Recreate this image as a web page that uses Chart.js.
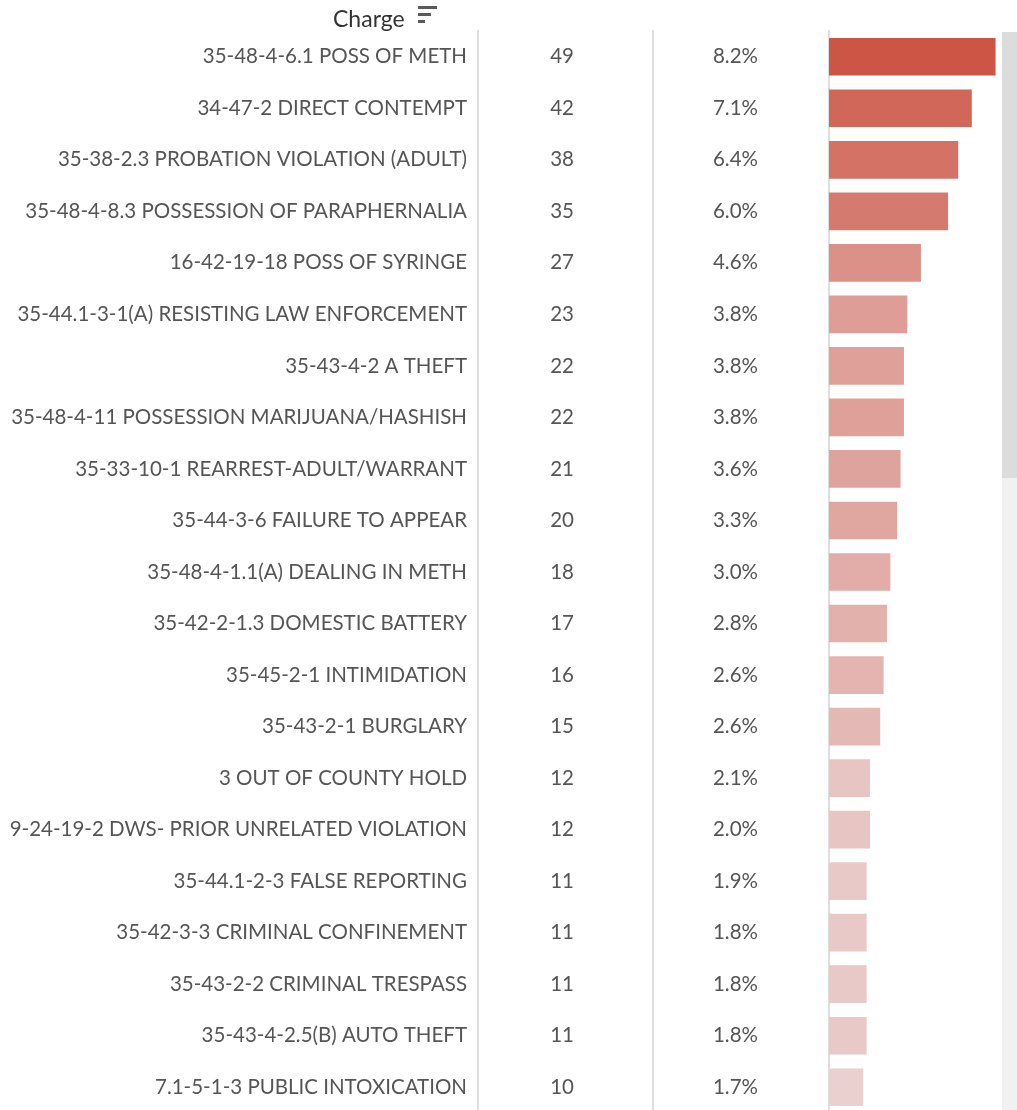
<!DOCTYPE html>
<html>
<head>
<meta charset="utf-8">
<script src="https://cdn.jsdelivr.net/npm/chart.js@4"></script>
<style>
  html, body { margin: 0; padding: 0; background: #fff; overflow: hidden; }
  #wrap { position: relative; width: 1017px; height: 1113px; }
  #header { position: absolute; left: 333px; top: 4px; font-family: Lato, sans-serif; font-size: 23px; color: #333; }
  .sortbar { position: absolute; height: 2.5px; background: #5a5a5a; left: 418px; }
  #track { position: absolute; left: 1002px; top: 32px; width: 15px; height: 1081px; background: #f1f1f1; }
  #thumb { position: absolute; left: 1002px; top: 32px; width: 15px; height: 446px; background: #dcdcdc; }
</style>
</head>
<body>
<div id="wrap">
  <canvas id="chart" width="1017" height="1113"></canvas>
  <div id="header">Charge</div>
  <div class="sortbar" style="top:6px;width:19px"></div>
  <div class="sortbar" style="top:13px;width:13px"></div>
  <div class="sortbar" style="top:20px;width:7px"></div>
  <div id="track"></div>
  <div id="thumb"></div>
</div>
<script>
// Dados
const charges = [
    '35-48-4-6.1 POSS OF METH',
    '34-47-2 DIRECT CONTEMPT',
    '35-38-2.3 PROBATION VIOLATION (ADULT)',
    '35-48-4-8.3 POSSESSION OF PARAPHERNALIA',
    '16-42-19-18 POSS OF SYRINGE',
    '35-44.1-3-1(A) RESISTING LAW ENFORCEMENT',
    '35-43-4-2 A THEFT',
    '35-48-4-11 POSSESSION MARIJUANA/HASHISH',
    '35-33-10-1 REARREST-ADULT/WARRANT',
    '35-44-3-6 FAILURE TO APPEAR',
    '35-48-4-1.1(A) DEALING IN METH',
    '35-42-2-1.3 DOMESTIC BATTERY',
    '35-45-2-1 INTIMIDATION',
    '35-43-2-1 BURGLARY',
    '3 OUT OF COUNTY HOLD',
    '9-24-19-2 DWS- PRIOR UNRELATED VIOLATION',
    '35-44.1-2-3 FALSE REPORTING',
    '35-42-3-3 CRIMINAL CONFINEMENT',
    '35-43-2-2 CRIMINAL TRESPASS',
    '35-43-4-2.5(B) AUTO THEFT',
    '7.1-5-1-3 PUBLIC INTOXICATION'
];
const counts = [49, 42, 38, 35, 27, 23, 22, 22, 21, 20, 18, 17, 16, 15, 12, 12, 11, 11, 11, 11, 10];
const percents = [8.2, 7.1, 6.4, 6.0, 4.6, 3.8, 3.8, 3.8, 3.6, 3.3, 3.0, 2.8, 2.6, 2.6, 2.1, 2.0, 1.9, 1.8, 1.8, 1.8, 1.7];

const theme = {
    dark: [204, 85, 69],
    light: [234, 208, 207],
    text: '#555555',
    border: '#dedede'
};
const FONT = 'Lato, sans-serif';

// Cor da barra proporcional ao valor
function barColor(v) {
    const min = Math.min(...counts), max = Math.max(...counts);
    const f = Math.pow((v - min) / (max - min), 0.8);
    const c = theme.light.map((l, i) => Math.round(l + (theme.dark[i] - l) * f));
    return `rgb(${c[0]}, ${c[1]}, ${c[2]})`;
}

function hiddenGrid() {
    return { display: false, drawTicks: false, tickLength: 0 };
}

// Largura fixa de cada coluna; o padding dos ticks não deve empurrar a área vertical
function fixWidth(w) {
    return s => {
        s.width = w;
        s.paddingTop = 0;
        s.paddingBottom = 0;
    };
}

function columnAxis(weight, labels, padding, crossAlign, width) {
    const axis = {
        type: 'category',
        position: 'left',
        weight: weight,
        offset: true,
        grid: hiddenGrid(),
        border: { display: true, color: theme.border, width: 2 },
        ticks: { color: theme.text, padding: padding, crossAlign: crossAlign, autoSkip: false, font: { family: FONT, size: 20.5 } },
        afterFit: fixWidth(width)
    };
    if (labels) axis.labels = labels;
    return axis;
}

new Chart(document.getElementById('chart'), {
    type: 'bar',
    data: {
        labels: charges,
        datasets: [{
            data: counts,
            backgroundColor: counts.map(barColor),
            barThickness: 37,
            yAxisID: 'y'
        }]
    },
    options: {
        indexAxis: 'y',
        responsive: false,
        animation: false,
        layout: { padding: { top: 31, right: 15, bottom: 0, left: 0 } },
        plugins: { legend: { display: false }, tooltip: { enabled: false } },
        scales: {
            x: { display: false, min: 0, max: 51 },
            y: columnAxis(3, null, 11, 'near', 478),
            yCount: columnAxis(2, counts.map(String), 79, 'center', 175),
            yPct: columnAxis(1, percents.map(p => p.toFixed(1) + '%'), 71, 'center', 176)
        }
    }
});
</script>
</body>
</html>
